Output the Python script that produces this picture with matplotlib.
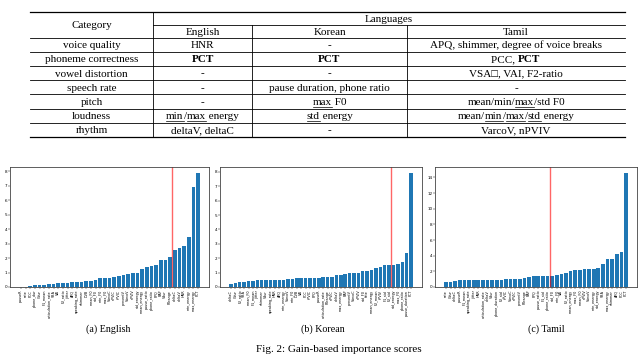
import re
import matplotlib
matplotlib.use("Agg")
import matplotlib.pyplot as plt
from matplotlib.lines import Line2D

# ---------------- data ----------------
categories = ["voice quality", "phoneme correctness", "vowel distortion", "speech rate",
              "pitch", "loudness", "rhythm"]
col_english = ["HNR", "**PCT**", "-", "-", "-", "__min__/__max__ energy", "deltaV, deltaC"]
col_korean = ["-", "**PCT**", "-", "pause duration, phone ratio", "__max__ F0", "__std__ energy", "-"]
col_tamil = ["APQ, shimmer, degree of voice breaks", "PCC, **PCT**", "VSA\u25a1, VAI, F2-ratio", "-",
             "mean/min/__max__/std F0", "mean/__min__/__max__/__std__ energy", "VarcoV, nPVIV"]
languages = ["English", "Korean", "Tamil"]

en_labels = ["pauseR", "rate", "PCC", "phone_dur", "Cdur", "F1_mean", "articulation_rate", "VSA",
             "VAI", "F2_ratio", "jitter", "APQ", "speaking_rate", "shimmer", "DVB", "mean_F0",
             "std_F0", "min_F0", "max_F0", "VarcoC", "nPVIC", "rPVIC", "percentV", "VarcoV",
             "nPVIV", "std_energy", "mean_energy", "pause_ratio", "phone_ratio", "PPQ", "RAP",
             "Vdur", "F0range", "deltaC", "deltaV", "HNR", "min_energy", "max_energy", "PCT"]
en_values = [0.0, 0.0, 0.1, 0.15, 0.15, 0.15, 0.18, 0.2, 0.28, 0.28, 0.28, 0.35, 0.38, 0.38,
             0.4, 0.42, 0.48, 0.62, 0.62, 0.62, 0.7, 0.78, 0.8, 0.92, 1.0, 1.0, 1.22, 1.38,
             1.45, 1.55, 1.88, 1.88, 2.1, 2.55, 2.7, 2.85, 3.48, 6.9, 7.9]
en_cut = 32.5

ko_labels = ["deltaC", "Cdur", "F2_ratio", "VSA", "mean_F0", "F1_mean", "jitter", "shimmer",
             "Vdur", "speaking_rate", "HNR", "APQ", "min_energy", "VarcoV", "min_F0", "DVB",
             "VAI", "PCC", "rPVIC", "PPQ", "pauseR", "articulation_rate", "F0range", "nPVIC",
             "deltaV", "max_energy", "RAP", "percentV", "VarcoC", "nPVIV", "std_F0", "rate",
             "mean_energy", "F2_mean", "rPVIV", "F1_std", "F2_std", "std_energy", "max_F0",
             "phone_ratio", "pause_duration", "PCT"]
ko_values = [0.22, 0.25, 0.38, 0.38, 0.42, 0.45, 0.48, 0.48, 0.5, 0.5, 0.5, 0.52, 0.52, 0.55,
             0.57, 0.6, 0.6, 0.6, 0.62, 0.62, 0.62, 0.68, 0.72, 0.72, 0.82, 0.85, 0.92, 0.95,
             0.95, 1.0, 1.1, 1.1, 1.15, 1.35, 1.38, 1.55, 1.55, 1.55, 1.62, 1.72, 2.38, 7.95]
ko_cut = 36.5

ta_labels = ["rate", "Cdur", "deltaC", "pauseR", "F1_mean", "speaking_rate", "jitter", "HNR",
             "articulation_rate", "deltaV", "Vdur", "phone_duration", "F2_std", "rPVIC",
             "VarcoC", "nPVIC", "percentV", "F0range", "RAP", "PPQ", "pause_ratio", "F1_std",
             "phone_ratio", "std_F0", "min_F0", "VAI", "F2_ratio", "mean_energy", "max_F0",
             "mean_F0", "nPVIV", "VarcoV", "min_energy", "std_energy", "VSA", "max_energy",
             "shimmer", "APQ", "PCC", "PCT"]
ta_values = [0.65, 0.65, 0.8, 0.85, 0.85, 0.85, 0.85, 0.85, 0.85, 0.88, 0.9, 0.9, 0.95, 1.0,
             1.0, 1.0, 1.05, 1.15, 1.3, 1.35, 1.4, 1.45, 1.45, 1.45, 1.5, 1.62, 1.85, 2.0,
             2.22, 2.22, 2.3, 2.3, 2.35, 2.4, 2.9, 3.55, 3.55, 4.2, 4.5, 14.6]
ta_cut = 22.5

captions = ["(a) English", "(b) Korean", "(c) Tamil"]
fig_caption = "Fig. 2: Gain-based importance scores"

# ---------------- figure ----------------
W, H = 640, 359
fig = plt.figure(figsize=(W / 100, H / 100), dpi=100)
SERIF = ["Liberation Serif", "DejaVu Sans"]


def fx(x):
    return x / W


def fy(y):
    return 1 - y / H


renderer = fig.canvas.get_renderer()


def parse(s):
    parts = re.split(r"(\*\*.+?\*\*|__.+?__)", s)
    out = []
    for p in parts:
        if not p:
            continue
        if p.startswith("**"):
            out.append((p[2:-2], "bold", False))
        elif p.startswith("__"):
            out.append((p[2:-2], "normal", True))
        else:
            out.append((p, "normal", False))
    return out


def draw_cell(xc, yc, s, size=8.0):
    segs = parse(s)
    texts = []
    total = 0
    for txt, wt, ul in segs:
        t = fig.text(0, 0, txt, family=SERIF, fontsize=size, weight=wt,
                     ha="left", va="baseline")
        w = t.get_window_extent(renderer).width
        texts.append((t, w, ul))
        total += w
    x = xc - total / 2
    yb = yc + 3.6
    for t, w, ul in texts:
        t.set_position((fx(x), fy(yb)))
        if ul:
            fig.add_artist(Line2D([fx(x), fx(x + w)], [fy(yb + 1.5)] * 2,
                                  color="black", lw=0.5))
        x += w


# table geometry (pixels)
x_left, x_cat, x_en, x_ko, x_right = 30, 153, 252, 407, 625
y_top, y_lang, y_head = 12, 24.5, 37.5
row_h = 14.2
row_lines = [y_head + row_h * i for i in range(len(categories) + 1)]
y_bot = row_lines[-1]


def hline(x0, x1, y, lw=0.6):
    fig.add_artist(Line2D([fx(x0), fx(x1)], [fy(y)] * 2, color="black", lw=lw))


def vline(x, y0, y1, lw=0.6):
    fig.add_artist(Line2D([fx(x)] * 2, [fy(y0), fy(y1)], color="black", lw=lw))


hline(x_left, x_right, y_top, 0.9)
hline(x_cat, x_right, y_lang)
for yl in row_lines[:-1]:
    hline(x_left, x_right, yl)
hline(x_left, x_right, y_bot, 0.9)
vline(x_cat, y_top, y_bot)
vline(x_en, y_lang, y_bot)
vline(x_ko, y_lang, y_bot)

draw_cell((x_left + x_cat) / 2, (y_top + y_head) / 2, "Category")
draw_cell((x_cat + x_right) / 2, (y_top + y_lang) / 2, "Languages")
centers = [(x_cat + x_en) / 2, (x_en + x_ko) / 2, (x_ko + x_right) / 2]
for c, lang in zip(centers, languages):
    draw_cell(c, (y_lang + y_head) / 2, lang)
for i, cat in enumerate(categories):
    yc = (row_lines[i] + row_lines[i + 1]) / 2
    draw_cell((x_left + x_cat) / 2, yc, cat)
    draw_cell(centers[0], yc, col_english[i])
    draw_cell(centers[1], yc, col_korean[i])
    draw_cell(centers[2], yc, col_tamil[i])

# ---------------- bar charts ----------------
panels = [
    (10, 209, en_labels, en_values, en_cut, [0, 1, 2, 3, 4, 5, 6, 7, 8]),
    (220, 422, ko_labels, ko_values, ko_cut, [0, 1, 2, 3, 4, 5, 6, 7, 8]),
    (435, 637, ta_labels, ta_values, ta_cut, [0, 2, 4, 6, 8, 10, 12, 14]),
]
ax_top, ax_bot = 167, 287
cap_x = [108, 323, 546]
for (l, r, labs, vals, cut, yt), cap, cx in zip(panels, captions, cap_x):
    ax = fig.add_axes([fx(l), fy(ax_bot), (r - l) / W, (ax_bot - ax_top) / H])
    xs = list(range(len(vals)))
    ax.bar(xs, vals, width=0.8, color="#1f77b4")
    ax.axvline(cut, color="red", alpha=0.6, lw=1.0)
    ax.set_xticks(xs)
    ax.set_xticklabels(labs, rotation=90, fontsize=2.4)
    ax.set_yticks(yt)
    ax.set_yticklabels([str(v) for v in yt], fontsize=3)
    ax.tick_params(length=1.2, width=0.3, pad=0.8)
    for sp in ax.spines.values():
        sp.set_linewidth(0.6)
        sp.set_color("#444444")
    fig.text(fx(cx), fy(329), cap, family=SERIF, fontsize=7.2, ha="center", va="center")

fig.text(fx(339), fy(349), fig_caption, family=SERIF, fontsize=8.0, ha="center", va="center")

fig.savefig("out.png", dpi=100)
